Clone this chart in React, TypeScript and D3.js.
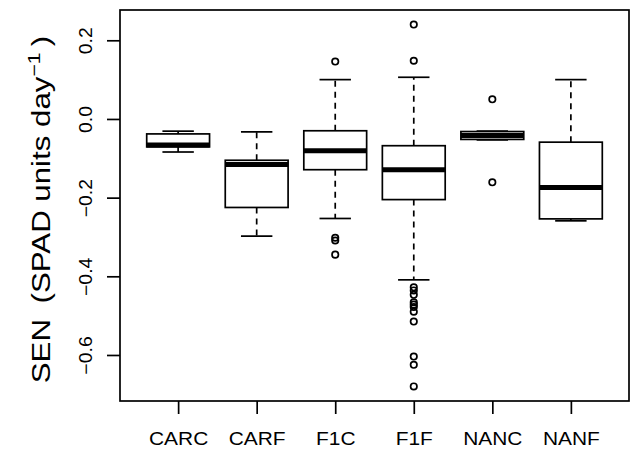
import React, { useEffect, useRef } from "react";
import * as d3 from "d3";

// boxplot stats
const groups = ["CARC", "CARF", "F1C", "F1F", "NANC", "NANF"];
const lowerWhisker = [-0.084, -0.298, -0.253, -0.409, -0.053, -0.259];
const q1 = [-0.071, -0.225, -0.129, -0.205, -0.052, -0.254];
const median = [-0.066, -0.116, -0.081, -0.129, -0.042, -0.174];
const q3 = [-0.038, -0.105, -0.030, -0.068, -0.032, -0.059];
const upperWhisker = [-0.031, -0.033, 0.100, 0.106, -0.031, 0.100];
const outliers = [
  [],
  [],
  [0.146, -0.302, -0.309, -0.345],
  [0.240, 0.148, -0.428, -0.436, -0.447, -0.466, -0.472, -0.478, -0.49, -0.515, -0.604, -0.625, -0.68],
  [0.05, -0.161],
  [],
];
const yTicks = [0.2, 0.0, -0.2, -0.4, -0.6];

const W = 641;
const H = 462;
const margin = { top: 10, right: 12, bottom: 61, left: 120 };

export default function App() {
  const ref = useRef<SVGSVGElement>(null);

  useEffect(() => {
    document.body.style.margin = "0";
    const svg = d3.select(ref.current);
    svg.selectAll("*").remove();

    const font = "'Liberation Sans', Arial, sans-serif";
    const lw = 1.7;
    const x = d3.scaleLinear().domain([0.26, 6.74]).range([margin.left, W - margin.right]);
    const y = d3.scaleLinear().domain([-0.717, 0.277]).range([H - margin.bottom, margin.top]);
    const half = 0.4;
    const capHalf = 0.2;

    const data = groups.map((g, i) => ({
      g,
      i: i + 1,
      lo: lowerWhisker[i],
      q1: q1[i],
      med: median[i],
      q3: q3[i],
      hi: upperWhisker[i],
      out: outliers[i],
    }));

    const box = svg.append("g").selectAll("g").data(data).enter().append("g");

    // whiskers
    box.append("line")
      .attr("x1", (d) => x(d.i)).attr("x2", (d) => x(d.i))
      .attr("y1", (d) => y(d.q3)).attr("y2", (d) => y(d.hi))
      .attr("stroke", "#000").attr("stroke-width", lw).attr("stroke-dasharray", "6,5");
    box.append("line")
      .attr("x1", (d) => x(d.i)).attr("x2", (d) => x(d.i))
      .attr("y1", (d) => y(d.q1)).attr("y2", (d) => y(d.lo))
      .attr("stroke", "#000").attr("stroke-width", lw).attr("stroke-dasharray", "6,5");
    // caps
    [(d: any) => d.hi, (d: any) => d.lo].forEach((f) => {
      box.append("line")
        .attr("x1", (d) => x(d.i - capHalf)).attr("x2", (d) => x(d.i + capHalf))
        .attr("y1", (d) => y(f(d))).attr("y2", (d) => y(f(d)))
        .attr("stroke", "#000").attr("stroke-width", lw);
    });
    // boxes
    box.append("rect")
      .attr("x", (d) => x(d.i - half))
      .attr("width", (d) => x(d.i + half) - x(d.i - half))
      .attr("y", (d) => y(d.q3))
      .attr("height", (d) => y(d.q1) - y(d.q3))
      .attr("fill", "#fff").attr("stroke", "#000").attr("stroke-width", lw);
    // medians
    box.append("line")
      .attr("x1", (d) => x(d.i - half)).attr("x2", (d) => x(d.i + half))
      .attr("y1", (d) => y(d.med)).attr("y2", (d) => y(d.med))
      .attr("stroke", "#000").attr("stroke-width", 5);
    // outliers
    box.selectAll("circle")
      .data((d) => d.out.map((v) => ({ i: d.i, v })))
      .enter().append("circle")
      .attr("cx", (d) => x(d.i)).attr("cy", (d) => y(d.v)).attr("r", 3.2)
      .attr("fill", "none").attr("stroke", "#000").attr("stroke-width", lw);

    // frame
    svg.append("rect")
      .attr("x", margin.left).attr("y", margin.top)
      .attr("width", W - margin.left - margin.right)
      .attr("height", H - margin.top - margin.bottom)
      .attr("fill", "none").attr("stroke", "#000").attr("stroke-width", lw);

    // axes
    const yAxis = svg.append("g")
      .attr("transform", `translate(${margin.left},0)`)
      .call(d3.axisLeft(y).tickValues(yTicks).tickSize(13).tickFormat(d3.format(".1f")));
    yAxis.select(".domain").remove();
    yAxis.selectAll("line").attr("stroke-width", lw);
    yAxis.selectAll("text")
      .text((d: any) => d3.format(".1f")(d).replace("-", "\u2212"))
      .attr("font-family", font).attr("font-size", 18).attr("fill", "#000")
      .attr("text-anchor", "middle").attr("dy", null)
      .attr("x", null)
      .attr("transform", "translate(-28,0) rotate(-90) scale(1.08,1)");

    const xAxis = svg.append("g")
      .attr("transform", `translate(0,${H - margin.bottom})`)
      .call(d3.axisBottom(x).tickValues(d3.range(1, 7)).tickSize(13).tickFormat((d: any) => groups[d - 1]));
    xAxis.select(".domain").remove();
    xAxis.selectAll("line").attr("stroke-width", lw);
    xAxis.selectAll("text")
      .attr("font-family", font).attr("font-size", 19).attr("fill", "#000")
      .attr("dy", null).attr("y", 44)
      .attr("transform", "scale(1.1,1)");

    // y label
    const lab = svg.append("text")
      .attr("transform", `translate(50,${(margin.top + H - margin.bottom) / 2 + 4}) rotate(-90) scale(1.25,1)`)
      .attr("text-anchor", "middle")
      .attr("font-family", font).attr("font-size", 25).attr("fill", "#000");
    lab.append("tspan").text("SEN\u2002(SPAD units day");
    lab.append("tspan").attr("font-size", 17).attr("dy", -10).text("\u22121");
    lab.append("tspan").attr("dy", 10).text("\u2009)");
  }, []);

  return <svg ref={ref} width={W} height={H} style={{ display: "block", background: "#fff" }} />;
}
